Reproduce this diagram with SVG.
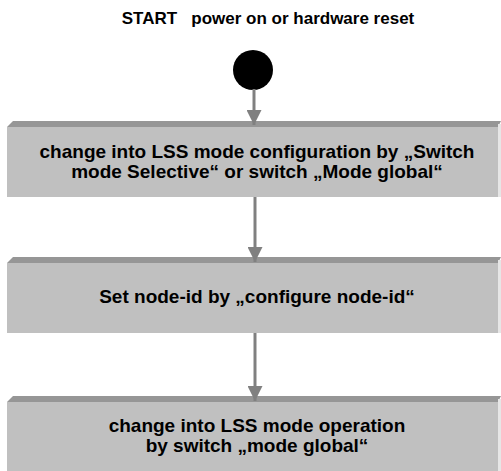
<svg xmlns="http://www.w3.org/2000/svg" width="501" height="471" viewBox="0 0 501 471">
<style>
.face{fill:#c0c0c0}
.top{fill:#969696}
.side{fill:#e6e6e6}
.t{font-family:"Liberation Sans",Arial,sans-serif;font-weight:bold;font-size:19px;fill:#000;text-anchor:middle}
.title{font-size:17px;white-space:pre}
.conn{stroke:#808080;stroke-width:3;fill:none}
</style>
<defs>
<marker id="ah" markerWidth="5" markerHeight="5" refX="5" refY="2.5" orient="auto" markerUnits="strokeWidth">
<path d="M0,0 L5,2.5 L0,5 Z" fill="#808080"/>
</marker>
</defs>
<rect width="501" height="471" fill="#fff"/>
<text class="t title" x="268" y="24" xml:space="preserve">START   power on or hardware reset</text>
<g id="start"><circle cx="253" cy="70" r="20" fill="#000"/></g>
<g id="n1">
<polygon class="top" points="7,127 13,121 501,121 498,127"/>
<rect class="face" x="7" y="127" width="491" height="70"/>
<rect class="side" x="498" y="124" width="3" height="73"/>
<text class="t" x="257" y="158">change into LSS mode configuration by „Switch</text>
<text class="t" x="257" y="178">mode Selective“ or switch „Mode global“</text>
</g>
<g id="n2">
<polygon class="top" points="7,263 13,257 501,257 498,263"/>
<rect class="face" x="7" y="263" width="491" height="70"/>
<rect class="side" x="498" y="260" width="3" height="73"/>
<text class="t" x="257" y="303">Set node-id by „configure node-id“</text>
</g>
<g id="n3">
<polygon class="top" points="7,402 13,396 501,396 498,402"/>
<rect class="face" x="7" y="402" width="491" height="69"/>
<rect class="side" x="498" y="399" width="3" height="72"/>
<text class="t" x="257" y="432">change into LSS mode operation</text>
<text class="t" x="257" y="452">by switch „mode global“</text>
</g>
<g id="connectors">
<line class="conn" x1="254" y1="89" x2="254" y2="125" marker-end="url(#ah)"/>
<line class="conn" x1="255" y1="197" x2="255" y2="262" marker-end="url(#ah)"/>
<line class="conn" x1="255" y1="333" x2="255" y2="401" marker-end="url(#ah)"/>
</g>
</svg>
